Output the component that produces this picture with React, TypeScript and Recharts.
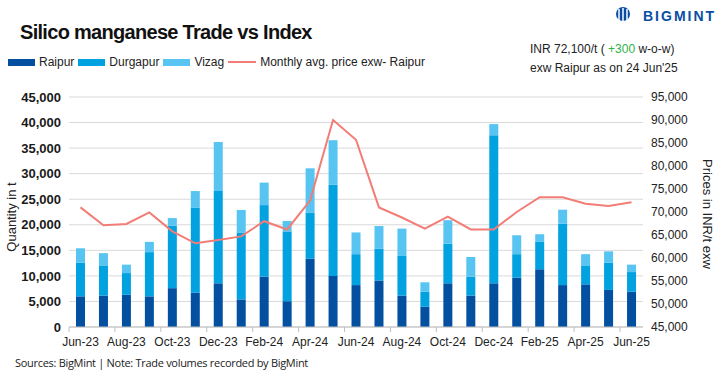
import React from 'react';
import {
  ComposedChart,
  Bar,
  Line,
  XAxis,
  YAxis,
  CartesianGrid,
  Legend,
} from 'recharts';

const months = [
  'Jun-23', 'Jul-23', 'Aug-23', 'Sep-23', 'Oct-23', 'Nov-23', 'Dec-23', 'Jan-24', 'Feb-24',
  'Mar-24', 'Apr-24', 'May-24', 'Jun-24', 'Jul-24', 'Aug-24', 'Sep-24', 'Oct-24', 'Nov-24',
  'Dec-24', 'Jan-25', 'Feb-25', 'Mar-25', 'Apr-25', 'May-25', 'Jun-25',
];
const raipur = [
  6000, 6150, 6300, 6000, 7600, 6700, 8550, 5400, 9850, 5050, 13350, 10000, 8200, 9100, 6150,
  3950, 8550, 6150, 8550, 9650, 11300, 8200, 8350, 7250, 6900,
];
const durgapur = [
  6600, 5900, 4250, 8650, 12200, 16600, 18050, 13100, 14000, 13650, 9050, 17900, 6050, 6250,
  7750, 2950, 7750, 3700, 28950, 4600, 5350, 12000, 3700, 5350, 3850,
];
const vizag = [
  2800, 2400, 1650, 2000, 1500, 3300, 9600, 4400, 4400, 2050, 8650, 8650, 4250, 4400, 5350,
  1850, 4600, 3850, 2200, 3700, 1500, 2750, 2200, 2200, 1450,
];
const price = [
  71000, 67100, 67400, 69900, 65800, 63200, 63900, 64700, 68000, 66200, 72500, 90000, 85700,
  71000, 68800, 66400, 69000, 66200, 66200, 70000, 73200, 73200, 71800, 71300, 72100,
];
const qtyTicks = [0, 5000, 10000, 15000, 20000, 25000, 30000, 35000, 40000, 45000];
const priceTicks = [45000, 50000, 55000, 60000, 65000, 70000, 75000, 80000, 85000, 90000, 95000];

const data = months.map((m, i) => ({
  month: m,
  raipur: raipur[i],
  durgapur: durgapur[i],
  vizag: vizag[i],
  price: price[i],
}));

const C_RAIPUR = '#0350a0';
const C_DURG = '#02a1e0';
const C_VIZAG = '#57c4f1';
const C_LINE = '#f27d77';
const FONT = '"Liberation Sans", Arial, sans-serif';

const fmt = (v: number) => v.toLocaleString('en-US');
const BAND = 574 / months.length;

const MonthTick = (props: any) => {
  const { x, y, payload } = props;
  return (
    <g>
      <line x1={x - BAND / 2} x2={x - BAND / 2} y1={y - 8} y2={y - 3} stroke="#bfbfbf" />
      <text x={x} y={y} dy={11} textAnchor="middle" fontSize={12} fill="#222" fontFamily={FONT}>
        {payload.value}
      </text>
    </g>
  );
};

const legendItems = [
  { label: 'Raipur', color: C_RAIPUR, kind: 'rect' },
  { label: 'Durgapur', color: C_DURG, kind: 'rect' },
  { label: 'Vizag', color: C_VIZAG, kind: 'rect' },
  { label: 'Monthly avg. price exw- Raipur', color: C_LINE, kind: 'line' },
];

const LegendContent = () => (
  <div style={{ display: 'flex', alignItems: 'center', fontFamily: FONT, fontSize: 12, color: '#222' }}>
    {legendItems.map((it) => (
      <div key={it.label} style={{ display: 'flex', alignItems: 'center', marginRight: 4 }}>
        {it.kind === 'rect' ? (
          <div style={{ width: 27, height: 7, background: it.color, marginRight: 4 }} />
        ) : (
          <div style={{ width: 28, height: 2, background: it.color, marginRight: 4 }} />
        )}
        <span>{it.label}</span>
      </div>
    ))}
  </div>
);

export default function App() {
  return (
    <div style={{ position: 'absolute', left: 0, top: 0, width: 720, height: 377, background: '#fff', fontFamily: FONT }}>
      <div style={{ position: 'absolute', left: 20, top: 21, fontSize: 20, fontWeight: 700, letterSpacing: -0.7, color: '#111' }}>
        Silico manganese Trade vs Index
      </div>
      <div style={{ position: 'absolute', left: 614, top: 6, display: 'flex', alignItems: 'center', color: '#0a4ea2' }}>
        <svg width={18} height={20}>
          <circle cx={9} cy={8} r={7} fill="#0a4ea2" />
          <line x1={5} x2={5} y1={3} y2={19} stroke="#fff" strokeWidth={1.5} />
          <line x1={9} x2={9} y1={2} y2={19} stroke="#fff" strokeWidth={1.5} />
          <line x1={13} x2={13} y1={3} y2={19} stroke="#fff" strokeWidth={1.5} />
        </svg>
        <span style={{ marginLeft: 11, fontSize: 14, fontWeight: 700, letterSpacing: 2 }}>BIGMINT</span>
      </div>
      <div style={{ position: 'absolute', left: 530, top: 40, fontSize: 12, lineHeight: '19px', color: '#222' }}>
        <div>
          INR 72,100/t ( <span style={{ color: '#2fb34a' }}>+300</span> w-o-w)
        </div>
        <div>exw Raipur as on 24 Jun'25</div>
      </div>
      <ComposedChart
        width={720}
        height={377}
        data={data}
        margin={{ top: 83, right: 0, bottom: 30, left: 0 }}
        barCategoryGap="60%"
      >
        <CartesianGrid vertical={false} stroke="#d9d9d9" yAxisId="left" />
        <XAxis
          dataKey="month"
          height={20}
          interval={1}
          tickLine={false}
          axisLine={{ stroke: '#bfbfbf' }}
          tick={<MonthTick />}
        />
        <YAxis
          yAxisId="left"
          orientation="left"
          width={69}
          domain={[0, 45000]}
          ticks={qtyTicks}
          tickFormatter={fmt}
          axisLine={false}
          tickLine={false}
          tick={{ fontSize: 13, fontWeight: 700, fill: '#1a1a1a', fontFamily: FONT }}
          label={{ value: 'Quantity in t', angle: -90, position: 'insideLeft', offset: 11, dy: 5, style: { fontSize: 13, fill: '#222', fontFamily: FONT, textAnchor: 'middle' } }}
        />
        <YAxis
          yAxisId="right"
          orientation="right"
          width={77}
          domain={[45000, 95000]}
          ticks={priceTicks}
          tickFormatter={fmt}
          axisLine={false}
          tickLine={false}
          tick={{ fontSize: 12, fill: '#222', fontFamily: FONT }}
          label={{ value: 'Prices in INR/t exw', angle: 90, position: 'insideRight', offset: 12, dy: 2, style: { fontSize: 13, fill: '#222', fontFamily: FONT, textAnchor: 'middle' } }}
        />
        <Legend
          verticalAlign="top"
          align="left"
          content={<LegendContent />}
          wrapperStyle={{ position: 'absolute', top: 55, left: 8, width: 500 }}
        />
        <Bar yAxisId="left" dataKey="raipur" stackId="q" fill={C_RAIPUR} barSize={9} isAnimationActive={false} />
        <Bar yAxisId="left" dataKey="durgapur" stackId="q" fill={C_DURG} barSize={9} isAnimationActive={false} />
        <Bar yAxisId="left" dataKey="vizag" stackId="q" fill={C_VIZAG} barSize={9} isAnimationActive={false} />
        <Line
          yAxisId="right"
          type="linear"
          dataKey="price"
          stroke={C_LINE}
          strokeWidth={2}
          dot={false}
          isAnimationActive={false}
        />
      </ComposedChart>
      <div style={{ position: 'absolute', left: 15, top: 355, fontSize: 11, color: '#222', fontFamily: '"Open Sans", sans-serif', letterSpacing: -0.3 }}>
        Sources: BigMint | Note: Trade volumes recorded by BigMint
      </div>
    </div>
  );
}
